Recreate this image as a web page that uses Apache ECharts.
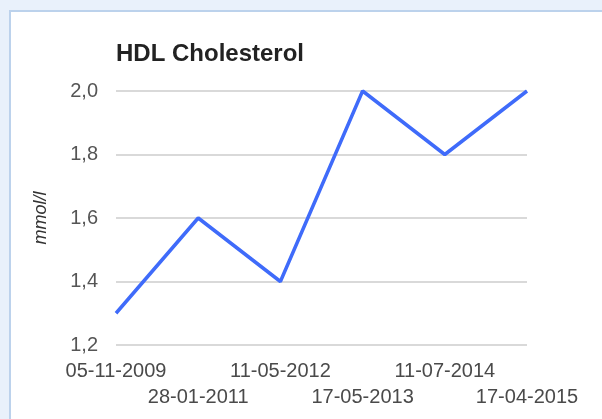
<!DOCTYPE html>
<html>
<head>
<meta charset="utf-8">
<script src="https://cdn.jsdelivr.net/npm/echarts@6/dist/echarts.min.js"></script>
<style>
  html, body { margin: 0; padding: 0; background: #e9f1fb; }
  #card { position: absolute; left: 9px; top: 10px; width: 640px; height: 460px;
          background: #fff; border: 2px solid #bcd2ec; box-sizing: border-box; }
  #chart { position: absolute; left: 0; top: 0; width: 602px; height: 419px; }
</style>
</head>
<body>
<div id="card"></div>
<div id="chart"></div>
<script>
var dates = ['05-11-2009', '28-01-2011', '11-05-2012', '17-05-2013', '11-07-2014', '17-04-2015'];
var hdl = [1.3, 1.6, 1.4, 2.0, 1.8, 2.0];

var myChart = echarts.init(document.getElementById('chart'));
var option = {
	backgroundColor: 'transparent',
	title: {
		text: 'HDL Cholesterol',
		left: 111,
		top: 37,
		textStyle: { fontFamily: 'Liberation Sans', fontWeight: 'bold', fontSize: 24, color: '#222' }
	},
	grid: { left: 116, right: 75, top: 91, bottom: 74 },
	xAxis: {
		type: 'category',
		boundaryGap: false,
		data: dates,
		axisLine: { show: false },
		axisTick: { show: false },
		axisLabel: {
			interval: 0,
			margin: 13,
			color: '#4a4a4a',
			fontFamily: 'Liberation Sans',
			fontSize: 20,
			lineHeight: 26,
			formatter: function (v, i) { return i % 2 ? '\n' + v : v; }
		}
	},
	yAxis: {
		type: 'value',
		min: 1.2,
		max: 2.0,
		interval: 0.2,
		name: 'mmol/l',
		nameLocation: 'middle',
		nameGap: 66,
		nameTextStyle: { fontFamily: 'Liberation Sans', fontStyle: 'italic', fontSize: 18, color: '#333' },
		axisLabel: {
			margin: 18,
			color: '#555',
			fontFamily: 'Liberation Sans',
			fontSize: 20,
			formatter: function (v) { return v.toFixed(1).replace('.', ','); }
		},
		splitLine: { lineStyle: { color: '#cccccc', width: 1.5 } }
	},
	series: [{
		type: 'line',
		data: hdl,
		symbol: 'none',
		lineStyle: { color: '#3f6bfa', width: 3.5 }
	}]
};
myChart.setOption(option);
</script>
</body>
</html>
